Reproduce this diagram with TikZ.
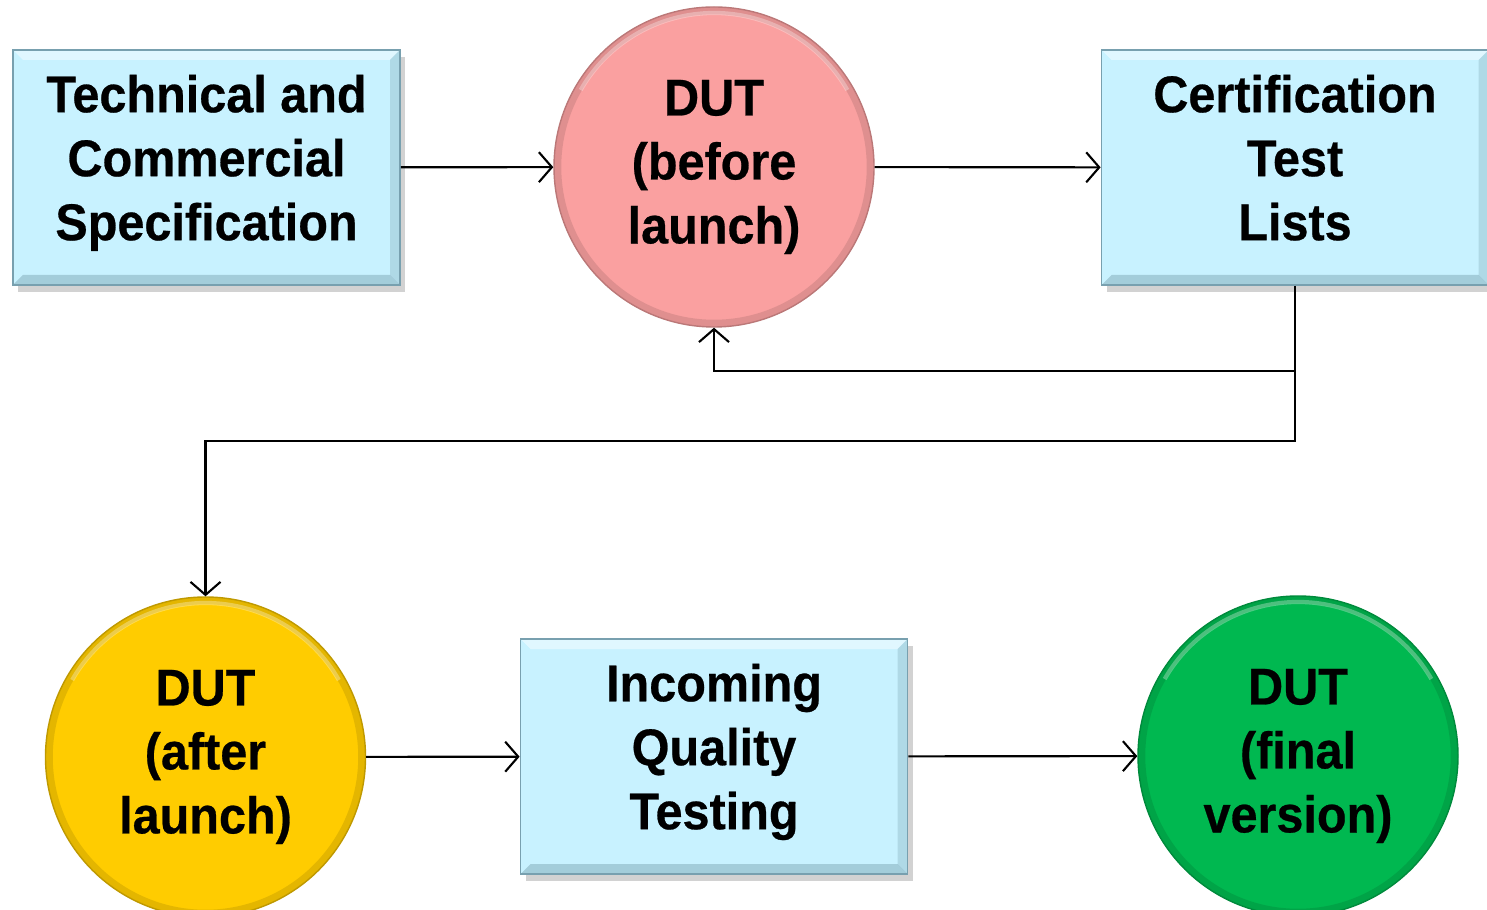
\documentclass[tikz,border=0pt]{standalone}
\usepackage{fontspec}
\newfontfamily\boxfont[FakeStretch=0.94, BoldFeatures={FakeBold=0.5}]{Liberation Sans}
\usepackage{tikz}
\usetikzlibrary{arrows.meta, positioning, calc, shadows}
\definecolor{boxcolor}{RGB}{200,242,255}
\definecolor{edgecolor}{RGB}{120,160,175}
\definecolor{beforecolor}{RGB}{250,160,160}
\definecolor{aftercolor}{RGB}{255,204,0}
\definecolor{finalcolor}{RGB}{0,184,80}
\tikzset{
  txt/.style={font=\boxfont\bfseries\fontsize{14.7}{18.2}\selectfont, align=center},
  stage/.style={txt, rectangle, minimum width=3.87cm, minimum height=2.35cm,
                text depth=0.2cm,
                fill=boxcolor, draw=edgecolor, line width=0.5pt,
                drop shadow={shadow xshift=0.5mm, shadow yshift=-0.7mm, fill=gray!70},
                path picture={
                  \fill[white, opacity=0.45] (path picture bounding box.north west)
                    -- (path picture bounding box.north east) -- ++(-0.1,-0.1)
                    -- ($(path picture bounding box.north west)+(0.1,-0.1)$) -- cycle;
                  \fill[edgecolor, opacity=0.45] (path picture bounding box.south west)
                    -- (path picture bounding box.south east) -- ++(-0.1,0.1)
                    -- ($(path picture bounding box.south west)+(0.1,0.1)$) -- cycle;
                  \fill[edgecolor, opacity=0.3] (path picture bounding box.north east)
                    -- (path picture bounding box.south east) -- ++(-0.1,0.1)
                    -- ($(path picture bounding box.north east)+(-0.1,-0.1)$) -- cycle;
                }},
  dut/.style={txt, circle, minimum size=3.2cm, inner sep=0pt, fill=#1,
              draw=#1!75!black, line width=0.4pt,
              path picture={
                \draw[#1!70!black, opacity=0.35, line width=3pt]
                  (path picture bounding box.center) circle (1.58);
                \draw[white, opacity=0.3, line width=1.2pt]
                  ([shift={(150:1.54)}]path picture bounding box.center)
                  arc (150:30:1.54);
              }},
  arrow/.style={-{Straight Barb[length=1.3mm, width=3mm]}, line width=0.6pt},
}
\begin{document}
\begin{tikzpicture}
  \useasboundingbox (0,0) rectangle (14.87,-9.10);

  % Top row
  \node[stage] (spec) at (2.065,-1.675) {Technical and\\Commercial\\Specification};
  \node[dut=beforecolor] (before) at (7.14,-1.67) {DUT\\(before\\launch)};
  \node[stage] (lists) at (12.95,-1.675) {Certification\\Test\\Lists};

  % Bottom row
  \node[dut=aftercolor] (after) at (2.055,-7.57) {DUT\\(after\\launch)};
  \node[stage] (iqt) at (7.14,-7.565) {Incoming\\Quality\\Testing};
  \node[dut=finalcolor] (final) at (12.98,-7.56) {DUT\\(final\\version)};

  % Connectors
  \draw[arrow] (spec) -- (before);
  \draw[arrow] (before) -- (lists);
  \draw[arrow] (lists.south) -- ++(0,-0.85) -| (before.south);
  \draw[arrow] (lists.south) -- ++(0,-1.55) -| (after.north);
  \draw[arrow] (after) -- (iqt);
  \draw[arrow] (iqt) -- (final);
\end{tikzpicture}
\end{document}
